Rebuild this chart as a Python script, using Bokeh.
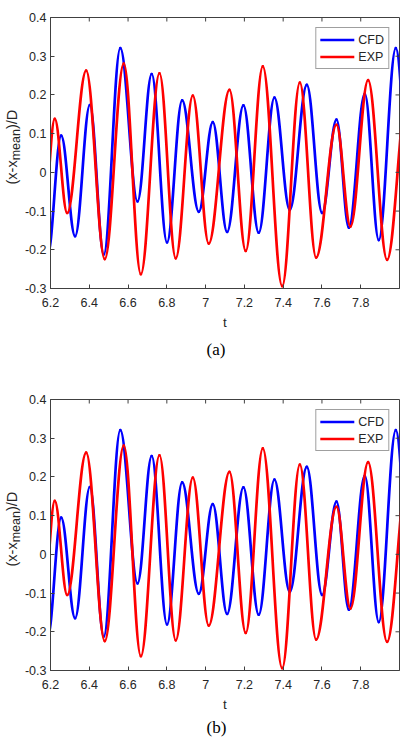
import math
import numpy as np
from bokeh.plotting import figure
from bokeh.models import Range1d, FixedTicker, ColumnDataSource, Title
from bokeh.layouts import column, row
from bokeh.core.properties import value
from bokeh.embed import file_html
from bokeh.resources import INLINE

# Extrema (time, value); first/last are just outside the window
cfd_t = [6.185, 6.255, 6.327, 6.403, 6.475, 6.560, 6.649, 6.722, 6.801, 6.879, 6.965,
         7.037, 7.111, 7.195, 7.274, 7.355, 7.434, 7.522, 7.601, 7.675, 7.739, 7.821,
         7.893, 7.981, 8.060]
cfd_v = [-0.215, 0.095, -0.165, 0.174, -0.212, 0.321, -0.075, 0.254, -0.181, 0.186, -0.102,
         0.130, -0.154, 0.173, -0.156, 0.193, -0.097, 0.226, -0.105, 0.136, -0.143, 0.203,
         -0.175, 0.321, -0.100]

exp_t = [6.165, 6.222, 6.286, 6.384, 6.480, 6.578, 6.666, 6.762, 6.846, 6.934, 7.016,
         7.123, 7.207, 7.295, 7.395, 7.486, 7.570, 7.675, 7.747, 7.838, 7.936, 8.040]
exp_v = [-0.120, 0.138, -0.105, 0.263, -0.224, 0.281, -0.263, 0.256, -0.222, 0.198, -0.184,
         0.213, -0.203, 0.274, -0.294, 0.232, -0.220, 0.123, -0.140, 0.238, -0.226, 0.200]

series_names = ["CFD", "EXP"]
series_colors = ["#0000ff", "#ff0000"]

x_ticks = [6.2, 6.4, 6.6, 6.8, 7.0, 7.2, 7.4, 7.6, 7.8]
x_tick_labels = ["6.2", "6.4", "6.6", "6.8", "7", "7.2", "7.4", "7.6", "7.8"]
y_ticks = [-0.3, -0.2, -0.1, 0.0, 0.1, 0.2, 0.3, 0.4]
y_tick_labels = ["-0.3", "-0.2", "-0.1", "0", "0.1", "0.2", "0.3", "0.4"]

panel_tags = ["(a)", "(b)"]
x_label = "t"
y_label_parts = ["(x-x", "mean", ")/D"]

AX = "#404040"
TXT = "#262626"
FONT = "Liberation Sans"
FRAME_W, FRAME_H = 349, 271
TOP = 17
LAB_W = 21
TICK = 4
Y0, Y1 = -0.3, 0.4
X0, X1 = 6.2, 8.0


def py2v(py):
    # page pixel (from top of a panel) -> data value on the y axis
    return Y1 - (py - TOP) * (Y1 - Y0) / FRAME_H


def bezier_source(t, v, k=0.363):
    t = np.asarray(t, dtype=float)
    v = np.asarray(v, dtype=float)
    dt = t[1:] - t[:-1]
    return ColumnDataSource(dict(
        x0=t[:-1], y0=v[:-1], x1=t[1:], y1=v[1:],
        cx0=t[:-1] + k * dt, cy0=v[:-1],
        cx1=t[1:] - k * dt, cy1=v[1:],
    ))


def ylabel_fig(bottom):
    f = figure(frame_width=LAB_W, frame_height=FRAME_H,
               x_range=Range1d(0, LAB_W), y_range=Range1d(Y0, Y1),
               output_backend="svg", toolbar_location=None,
               min_border_left=0, min_border_right=0,
               min_border_top=TOP, min_border_bottom=bottom,
               x_axis_location=None, y_axis_location=None)
    f.xgrid.visible = False
    f.ygrid.visible = False
    f.outline_line_color = None
    f.border_fill_color = "white"
    main, sub = 14.5, 12.5
    w0 = main * (0.333 + 0.5 + 0.333 + 0.5)
    w1 = sub * (0.833 + 0.556 + 0.556 + 0.556)
    y_start = 184
    f.text(x=[11.5], y=[py2v(y_start)], text=[y_label_parts[0]], angle=math.pi / 2,
           text_align="left", text_baseline="middle", text_font=value(FONT),
           text_font_size=f"{main}px", text_color=TXT)
    f.text(x=[15.0], y=[py2v(y_start - w0)], text=[y_label_parts[1]], angle=math.pi / 2,
           text_align="left", text_baseline="middle", text_font=value(FONT),
           text_font_size=f"{sub}px", text_color=TXT)
    f.text(x=[11.5], y=[py2v(y_start - w0 - w1)], text=[y_label_parts[2]], angle=math.pi / 2,
           text_align="left", text_baseline="middle", text_font=value(FONT),
           text_font_size=f"{main}px", text_color=TXT)
    return f


def make_fig(tag, bottom, tag_standoff):
    xr = Range1d(X0, X1)
    yr = Range1d(Y0, Y1)
    p = figure(frame_width=FRAME_W, frame_height=FRAME_H, x_range=xr, y_range=yr,
               output_backend="svg", toolbar_location=None,
               min_border_left=47 - LAB_W, min_border_right=5,
               min_border_top=TOP, min_border_bottom=bottom)
    p.xgrid.visible = False
    p.ygrid.visible = False
    p.outline_line_color = AX
    p.outline_line_width = 1
    p.background_fill_color = "white"
    p.border_fill_color = "white"

    for t, v, name, col in [(cfd_t, cfd_v, series_names[0], series_colors[0]),
                            (exp_t, exp_v, series_names[1], series_colors[1])]:
        p.bezier(x0="x0", y0="y0", x1="x1", y1="y1", cx0="cx0", cy0="cy0",
                 cx1="cx1", cy1="cy1", source=bezier_source(t, v),
                 line_color=col, line_width=2.7, line_cap="round",
                 legend_label=name)

    # inward ticks on the top and right edges of the box
    dy = TICK * (yr.end - yr.start) / FRAME_H
    dx = TICK * (xr.end - xr.start) / FRAME_W
    p.segment(x0=x_ticks, y0=[yr.end] * len(x_ticks), x1=x_ticks,
              y1=[yr.end - dy] * len(x_ticks), line_color=AX, line_width=1)
    p.segment(x0=[xr.end] * len(y_ticks), y0=y_ticks, x1=[xr.end - dx] * len(y_ticks),
              y1=y_ticks, line_color=AX, line_width=1)

    xo = {float(a): b for a, b in zip(x_ticks, x_tick_labels)}
    yo = {float(a): b for a, b in zip(y_ticks, y_tick_labels)}

    for ax in p.xaxis:
        ax.ticker = FixedTicker(ticks=x_ticks)
        ax.major_label_overrides = xo
        ax.axis_label = x_label
        ax.axis_label_text_font = FONT
        ax.axis_label_text_font_size = "13.5px"
        ax.axis_label_text_font_style = "normal"
        ax.axis_label_text_color = TXT
        ax.axis_label_standoff = 5
        ax.major_label_standoff = 9
    for ax in p.yaxis:
        ax.ticker = FixedTicker(ticks=y_ticks)
        ax.major_label_overrides = yo
        ax.major_label_standoff = 4
    for ax in list(p.xaxis) + list(p.yaxis):
        ax.axis_line_color = AX
        ax.major_tick_line_color = AX
        ax.major_tick_in = TICK
        ax.major_tick_out = 0
        ax.minor_tick_line_color = None
        ax.major_label_text_font = FONT
        ax.major_label_text_font_size = "12.5px"
        ax.major_label_text_color = TXT

    lg = p.legend[0]
    lg.location = "top_right"
    lg.margin = 10
    lg.padding = 4
    lg.spacing = 2
    lg.glyph_width = 34
    lg.glyph_height = 15
    lg.label_height = 15
    lg.label_standoff = 4
    lg.label_text_font = FONT
    lg.label_text_font_size = "12.5px"
    lg.label_text_color = TXT
    lg.border_line_color = AX
    lg.border_line_width = 1
    lg.background_fill_color = "white"
    lg.background_fill_alpha = 1.0

    p.add_layout(Title(text=tag, align="left", offset=156, standoff=tag_standoff,
                       text_font="Liberation Serif", text_font_size="17px",
                       text_font_style="normal", text_color="black"), "below")
    return p


pa = make_fig(panel_tags[0], 94, 10)
pb = make_fig(panel_tags[1], 69, 2)
layout = column(row(ylabel_fig(94), pa, spacing=0),
                row(ylabel_fig(69), pb, spacing=0), spacing=0)

open("out.html", "w").write(file_html(layout, INLINE))
